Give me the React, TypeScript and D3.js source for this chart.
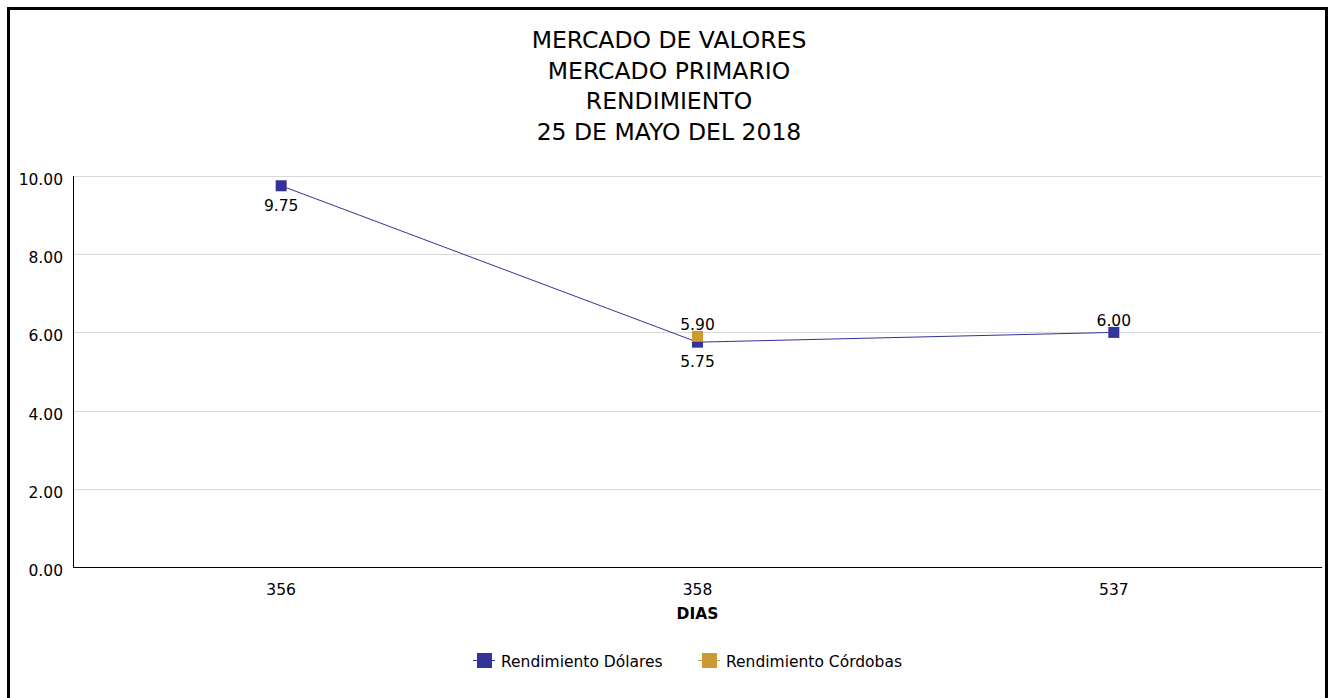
import { useEffect, useRef } from 'react';
import * as d3 from 'd3';

const titleLines = ['MERCADO DE VALORES', 'MERCADO PRIMARIO', 'RENDIMIENTO', '25 DE MAYO DEL 2018'];
const categories = ['356', '358', '537'];
const dolares: (number | null)[] = [9.75, 5.75, 6.0];
const cordobas: (number | null)[] = [null, 5.9, null];
const dolaresLabelSide = ['below', 'below', 'above'];
const cordobasLabelSide = ['above', 'above', 'above'];
const yTicks = [0, 2, 4, 6, 8, 10];
const xTitle = 'DIAS';
const seriesNames = ['Rendimiento Dólares', 'Rendimiento Córdobas'];
const seriesColors = ['#333399', '#cc9933'];

const FONT = '"DejaVu Sans", Tahoma, sans-serif';

const App = () => {
  const ref = useRef<SVGSVGElement>(null!);

  useEffect(() => {
    const width = 1335;
    const height = 698;
    const plot = { left: 73, right: 1322, top: 176, bottom: 567 };
    const svg = d3.select(ref.current);
    svg.selectAll('*').remove();
    svg.attr('width', width).attr('height', height);

    // frame
    svg
      .append('rect')
      .attr('x', 8.5)
      .attr('y', 8.5)
      .attr('width', 1318)
      .attr('height', 700)
      .attr('fill', '#fff')
      .attr('stroke', '#000')
      .attr('stroke-width', 3);

    // title
    svg
      .append('g')
      .selectAll('text')
      .data(titleLines)
      .enter()
      .append('text')
      .attr('x', 669)
      .attr('y', (_, i) => 48 + i * 30.6)
      .attr('text-anchor', 'middle')
      .attr('font-family', FONT)
      .attr('font-size', 23.5)
      .attr('fill', '#000')
      .text(d => d);

    const x = d3.scalePoint<string>().domain(categories).range([plot.left, plot.right]).padding(0.5);
    const y = d3.scaleLinear().domain([0, 10]).range([plot.bottom, plot.top]);

    // grid
    svg
      .append('g')
      .selectAll('line')
      .data(yTicks.filter(t => t > 0))
      .enter()
      .append('line')
      .attr('x1', plot.left)
      .attr('x2', plot.right)
      .attr('y1', d => Math.round(y(d)) + 0.5)
      .attr('y2', d => Math.round(y(d)) + 0.5)
      .attr('stroke', '#d9d9d9')
      .attr('stroke-width', 1);

    // y labels
    svg
      .append('g')
      .selectAll('text')
      .data(yTicks)
      .enter()
      .append('text')
      .attr('x', 63)
      .attr('y', d => y(d) + 9)
      .attr('text-anchor', 'end')
      .attr('font-family', FONT)
      .attr('font-size', 15.5)
      .attr('fill', '#000')
      .text(d => d3.format('.2f')(d));

    // axes lines
    svg
      .append('line')
      .attr('x1', plot.left + 0.5)
      .attr('x2', plot.left + 0.5)
      .attr('y1', plot.top)
      .attr('y2', plot.bottom)
      .attr('stroke', '#000');
    svg
      .append('line')
      .attr('x1', plot.left)
      .attr('x2', plot.right)
      .attr('y1', plot.bottom + 0.5)
      .attr('y2', plot.bottom + 0.5)
      .attr('stroke', '#000');

    // x labels
    svg
      .append('g')
      .selectAll('text')
      .data(categories)
      .enter()
      .append('text')
      .attr('x', d => x(d) ?? 0)
      .attr('y', 595)
      .attr('text-anchor', 'middle')
      .attr('font-family', FONT)
      .attr('font-size', 15.5)
      .attr('fill', '#000')
      .text(d => d);

    svg
      .append('text')
      .attr('x', x(categories[1]) ?? 0)
      .attr('y', 619)
      .attr('text-anchor', 'middle')
      .attr('font-family', FONT)
      .attr('font-size', 15.5)
      .attr('font-weight', 'bold')
      .attr('fill', '#000')
      .text(xTitle);

    const series = [
      { values: dolares, sides: dolaresLabelSide, color: seriesColors[0] },
      { values: cordobas, sides: cordobasLabelSide, color: seriesColors[1] },
    ];

    series.forEach(s => {
      const pts = categories
        .map((c, i) => ({ c, v: s.values[i], side: s.sides[i] }))
        .filter(p => p.v !== null) as { c: string; v: number; side: string }[];
      const line = d3
        .line<{ c: string; v: number }>()
        .x(d => x(d.c) ?? 0)
        .y(d => y(d.v));
      if (pts.length > 1) {
        svg
          .append('path')
          .attr('d', line(pts) ?? '')
          .attr('fill', 'none')
          .attr('stroke', s.color)
          .attr('stroke-width', 1);
      }
      svg
        .append('g')
        .selectAll('rect')
        .data(pts)
        .enter()
        .append('rect')
        .attr('x', d => (x(d.c) ?? 0) - 5.5)
        .attr('y', d => y(d.v) - 5.5)
        .attr('width', 11)
        .attr('height', 11)
        .attr('fill', s.color);
    });

    series.forEach(s => {
      const pts = categories
        .map((c, i) => ({ c, v: s.values[i], side: s.sides[i] }))
        .filter(p => p.v !== null) as { c: string; v: number; side: string }[];
      svg
        .append('g')
        .selectAll('text')
        .data(pts)
        .enter()
        .append('text')
        .attr('x', d => x(d.c) ?? 0)
        .attr('y', d => (d.side === 'above' ? y(d.v) - 6 : y(d.v) + 25))
        .attr('text-anchor', 'middle')
        .attr('font-family', FONT)
        .attr('font-size', 15.5)
        .attr('fill', '#000')
        .text(d => d3.format('.2f')(d.v));
    });

    // legend
    const legendX = [473, 698];
    const legend = svg
      .append('g')
      .selectAll('g')
      .data(seriesNames)
      .enter()
      .append('g')
      .attr('transform', (_, i) => `translate(${legendX[i]}, 660)`);
    legend
      .append('line')
      .attr('x1', 0)
      .attr('x2', 22)
      .attr('y1', 0.5)
      .attr('y2', 0.5)
      .attr('stroke', (_, i) => seriesColors[i])
      .attr('stroke-width', 1);
    legend
      .append('rect')
      .attr('x', 4)
      .attr('y', -7)
      .attr('width', 15)
      .attr('height', 15)
      .attr('fill', (_, i) => seriesColors[i]);
    legend
      .append('text')
      .attr('x', 28)
      .attr('y', 7)
      .attr('font-family', FONT)
      .attr('font-size', 15.5)
      .attr('fill', '#000')
      .text(d => d);

    return () => {
      svg.selectAll('*').remove();
    };
  }, []);

  return <svg ref={ref} style={{ position: 'absolute', left: 0, top: 0, display: 'block' }}></svg>;
};

export default App;
